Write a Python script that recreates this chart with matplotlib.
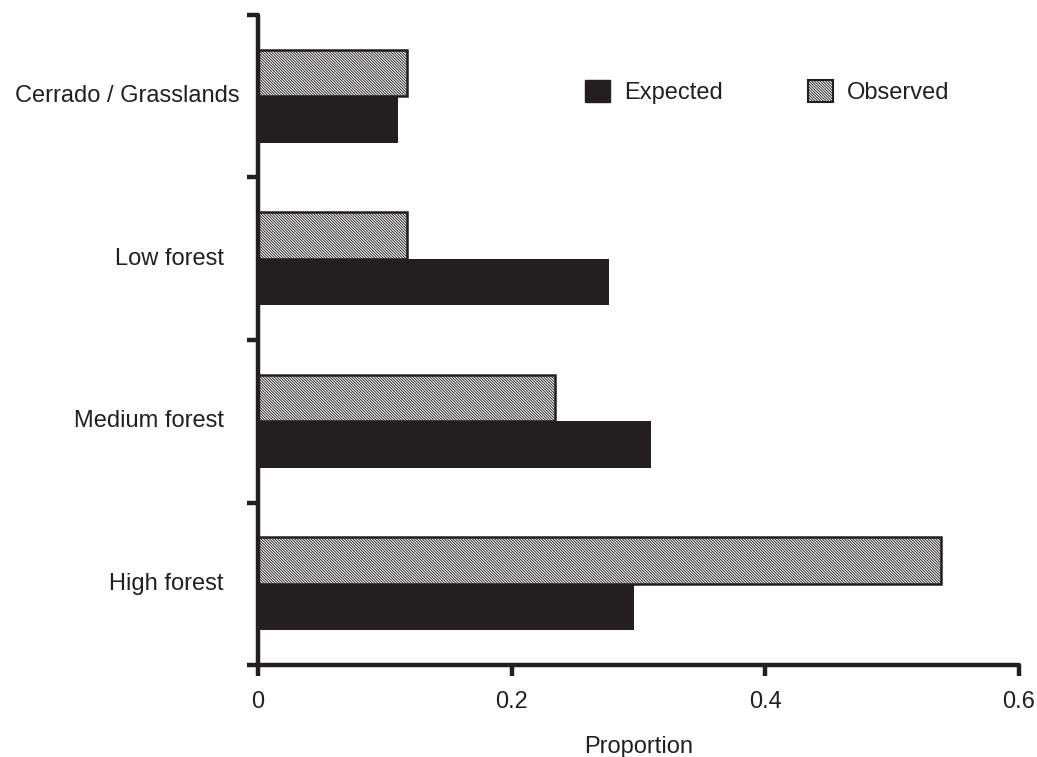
import matplotlib
matplotlib.use("Agg")
import matplotlib.pyplot as plt
from matplotlib.patches import Patch
import numpy as np

categories = ["High forest", "Medium forest", "Low forest", "Cerrado / Grasslands"]
expected = [0.2965, 0.310, 0.277, 0.110]
observed = [0.5385, 0.234, 0.1175, 0.1175]
xticks = [0, 0.2, 0.4, 0.6]
xtick_labels = ["0", "0.2", "0.4", "0.6"]

plt.rcParams['font.family'] = ['Liberation Sans', 'DejaVu Sans']
plt.rcParams['hatch.linewidth'] = 0.65

fig = plt.figure(figsize=(10.37, 7.57), dpi=100)
ax = fig.add_axes([258/1037, 1-665/757, (1019-258)/1037, (665-15)/757])

dark = '#231f20'
fs = 17
hatch = '\\' * 12
h = 0.285
pos = np.arange(len(categories)) + 0.5
ax.barh(pos - h/2, expected, height=h, color=dark, edgecolor=dark, linewidth=0, label='Expected')
ax.barh(pos + h/2, observed, height=h, color='white', edgecolor=dark, linewidth=1.8,
        hatch=hatch, label='Observed')

ax.set_xlim(0, 0.6)
ax.set_ylim(0, 4)
ax.set_xticks(xticks)
ax.set_xticklabels(xtick_labels, fontsize=fs)
ax.set_yticks([0, 1, 2, 3, 4])
ax.set_yticklabels([])
label_x = [-0.027, -0.027, -0.027, -0.0145]
for p, c, lx in zip(pos, categories, label_x):
    ax.text(lx, p, c, ha='right', va='center', fontsize=fs, color=dark)

for s in ['top', 'right']:
    ax.spines[s].set_visible(False)
for s in ['left', 'bottom']:
    ax.spines[s].set_linewidth(3.2)
    ax.spines[s].set_color(dark)
    ax.spines[s].set_capstyle('round')
ax.tick_params(axis='both', direction='out', length=8, width=3.2, color=dark, labelcolor=dark)
ax.tick_params(axis='x', pad=11)
ax.set_xlabel('Proportion', fontsize=fs, color=dark, labelpad=16)

handles = [Patch(facecolor=dark, edgecolor=dark, label='Expected'),
           Patch(facecolor='white', edgecolor=dark, hatch=hatch, linewidth=1.5, label='Observed')]
leg = ax.legend(handles=handles, ncol=2, frameon=False, fontsize=fs,
                loc='upper left', bbox_to_anchor=(0.402, 0.933),
                handlelength=1.05, handleheight=1.05, columnspacing=3.6, handletextpad=0.6)
for t in leg.get_texts():
    t.set_color(dark)

fig.savefig('out.png', dpi=100)
